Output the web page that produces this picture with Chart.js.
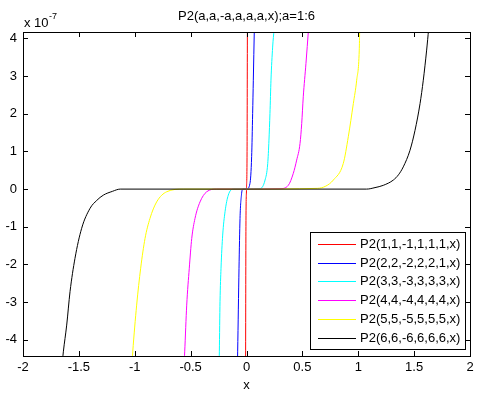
<!DOCTYPE html>
<html>
<head>
<meta charset="utf-8">
<script src="https://cdn.jsdelivr.net/npm/chart.js@4/dist/chart.umd.min.js"></script>
<style>
  html, body { margin: 0; padding: 0; background: #fff; }
  #wrap { width: 478px; height: 395px; }
</style>
</head>
<body>
<div id="wrap"><canvas id="plot" width="478" height="395"></canvas></div>
<script>
// values, y in units of 1e-7
const seriesLabels = ['P2(1,1,-1,1,1,1,x)', 'P2(2,2,-2,2,2,1,x)', 'P2(3,3,-3,3,3,3,x)',
                      'P2(4,4,-4,4,4,4,x)', 'P2(5,5,-5,5,5,5,x)', 'P2(6,6,-6,6,6,6,x)'];
const seriesColors = ['#ff0000', '#0000ff', '#00ffff', '#ff00ff', '#ffff00', '#000000'];

const redX = [-0.008, -0.005, 0, 0.005, 0.008];
const redY = [-4.5, -1, 0, 1, 4.25];

const blueX = [-0.080, -0.079, -0.067, -0.058, -0.045, -0.034, 0.0015, 0.031, 0.046, 0.055, 0.061, 0.070];
const blueY = [-4.5, -4.32, -2.10, -0.78, -0.15, 0, 0, 0.15, 0.86, 2.01, 2.89, 4.25];

const cyanX = [-0.244, -0.243, -0.237, -0.228, -0.213, -0.192, -0.163, -0.118, 0, 0.121, 0.166, 0.190, 0.201, 0.210, 0.219, 0.234, 0.247];
const cyanY = [-4.5, -4.32, -2.99, -2.10, -1.22, -0.6, -0.16, 0, 0, 0.01, 0.24, 0.68, 1.30, 2.01, 2.89, 3.77, 4.25];

const magentaX = [-0.556, -0.553, -0.535, -0.512, -0.490, -0.461, -0.416, -0.356, -0.267, 0, 0.300, 0.374, 0.419, 0.449, 0.479, 0.494, 0.508, 0.532, 0.555];
const magentaY = [-4.5, -4.32, -3.08, -2.10, -1.31, -0.78, -0.34, -0.07, 0, 0, 0.01, 0.1, 0.42, 0.77, 1.21, 1.74, 2.45, 3.33, 4.25];

const yellowX = [-1.022, -1.018, -0.983, -0.947, -0.908, -0.864, -0.804, -0.714, -0.565, 0, 0.634, 0.71, 0.777, 0.866, 0.911, 0.956, 0.986, 1.009, 1.013];
const yellowY = [-4.5, -4.32, -3.08, -2.10, -1.31, -0.78, -0.34, -0.07, 0, 0, 0.02, 0.08, 0.24, 0.68, 1.39, 2.27, 2.89, 3.69, 4.25];

const blackX = [-1.645, -1.639, -1.609, -1.579, -1.535, -1.475, -1.40, -1.34, -1.281, -1.20, -1.13, 0, 1.075, 1.15, 1.224, 1.314, 1.36, 1.403, 1.463, 1.508, 1.553, 1.582, 1.612, 1.63];
const blackY = [-4.5, -4.32, -3.61, -2.72, -1.84, -1.04, -0.51, -0.3, -0.16, -0.06, 0, 0, 0, 0.04, 0.1, 0.24, 0.38, 0.59, 1.03, 1.56, 2.27, 2.89, 3.69, 4.25];

const xTicks = [-2, -1.5, -1, -0.5, 0, 0.5, 1, 1.5, 2];
const yTicks = [-4, -3, -2, -1, 0, 1, 2, 3, 4];

const allX = [redX, blueX, cyanX, magentaX, yellowX, blackX];
const allY = [redY, blueY, cyanY, magentaY, yellowY, blackY];

const FONT = "'Liberation Sans', Arial, sans-serif";

const datasets = seriesLabels.map((label, i) => ({
    label: label,
    data: allX[i].map((x, j) => ({ x: x, y: allY[i][j] })),
    borderColor: seriesColors[i],
    backgroundColor: seriesColors[i],
    borderWidth: 1,
    pointRadius: 0,
    cubicInterpolationMode: 'monotone',
    order: seriesLabels.length - i  // later series on top, like matlab
}));

// box, inward ticks, title, exponent, x label and legend
const matlabDecor = {
    id: 'matlabDecor',
    afterDraw(chart) {
        const ctx = chart.ctx;
        const a = chart.chartArea;
        const xs = chart.scales.x, ys = chart.scales.y;
        ctx.save();
        ctx.strokeStyle = '#000';
        ctx.lineWidth = 1;
        ctx.strokeRect(Math.round(a.left) + 0.5, Math.round(a.top) + 0.5,
                       Math.round(a.right - a.left), Math.round(a.bottom - a.top));
        const tl = 5;
        ctx.beginPath();
        xTicks.forEach(v => {
            const px = Math.round(xs.getPixelForValue(v)) + 0.5;
            ctx.moveTo(px, a.bottom); ctx.lineTo(px, a.bottom - tl);
            ctx.moveTo(px, a.top); ctx.lineTo(px, a.top + tl);
        });
        yTicks.forEach(v => {
            const py = Math.round(ys.getPixelForValue(v)) + 0.5;
            ctx.moveTo(a.left, py); ctx.lineTo(a.left + tl, py);
            ctx.moveTo(a.right, py); ctx.lineTo(a.right - tl, py);
        });
        ctx.stroke();

        const cx = (a.left + a.right) / 2;
        ctx.fillStyle = '#000';
        ctx.font = '13px ' + FONT;
        ctx.textAlign = 'center';
        ctx.textBaseline = 'middle';
        ctx.fillText('P2(a,a,-a,a,a,a,x);a=1:6', cx, 16);
        ctx.fillText('x', cx, 385);

        ctx.textAlign = 'left';
        ctx.textBaseline = 'alphabetic';
        ctx.fillText('x 10', 24, 27);
        ctx.font = '9px ' + FONT;
        ctx.fillText('-7', 49, 19);

        // legend
        const lx = 310.5, ly = 232.5, lw = 155, lh = 117;
        ctx.fillStyle = '#fff';
        ctx.fillRect(lx, ly, lw, lh);
        ctx.strokeStyle = '#000';
        ctx.strokeRect(lx, ly, lw, lh);
        ctx.font = '13px ' + FONT;
        ctx.textBaseline = 'middle';
        seriesLabels.forEach((label, i) => {
            const ry = Math.round(244 + i * 18.7) + 0.5;
            ctx.strokeStyle = seriesColors[i];
            ctx.beginPath();
            ctx.moveTo(318, ry); ctx.lineTo(356, ry);
            ctx.stroke();
            ctx.fillStyle = '#000';
            ctx.fillText(label, 360, ry);
        });
        ctx.restore();
    }
};

new Chart(document.getElementById('plot'), {
    type: 'line',
    data: { datasets: datasets },
    options: {
        responsive: false,
        animation: false,
        devicePixelRatio: 1,
        layout: { padding: { top: 32, right: 8, left: 0, bottom: 0 } },
        plugins: {
            legend: { display: false },
            tooltip: { enabled: false },
            title: { display: false }
        },
        scales: {
            x: {
                type: 'linear',
                min: -2, max: 2,
                grid: { display: false, drawTicks: false },
                border: { display: false },
                afterBuildTicks: s => { s.ticks = xTicks.map(v => ({ value: v })); },
                afterFit: s => { s.height = 39; },
                ticks: {
                    color: '#000', font: { family: FONT, size: 13 }, padding: 4,
                    maxRotation: 0, autoSkip: false,
                    callback: v => String(v)
                }
            },
            y: {
                type: 'linear',
                min: -4.43, max: 4.17,
                grid: { display: false, drawTicks: false },
                border: { display: false },
                afterBuildTicks: s => { s.ticks = yTicks.map(v => ({ value: v })); },
                afterFit: s => { s.width = 23; },
                ticks: {
                    color: '#000', font: { family: FONT, size: 13 }, padding: 6,
                    autoSkip: false,
                    callback: v => String(v)
                }
            }
        }
    },
    plugins: [matlabDecor]
});
</script>
</body>
</html>
